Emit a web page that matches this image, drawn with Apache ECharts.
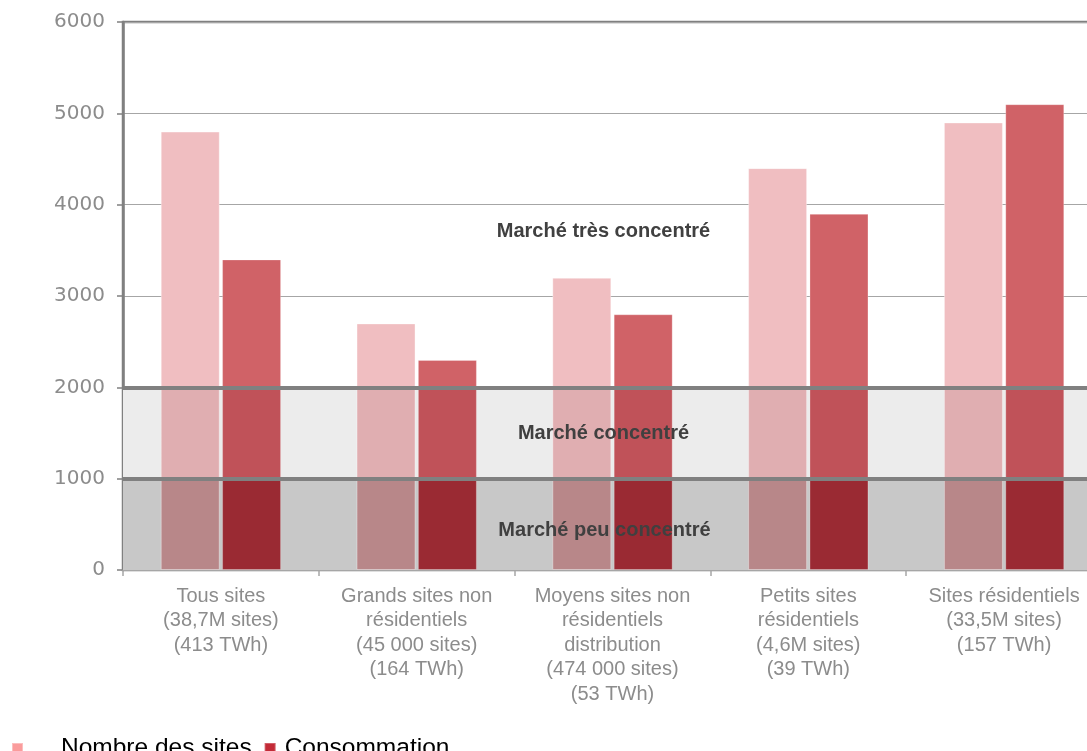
<!DOCTYPE html>
<html>
<head>
<meta charset="utf-8">
<script src="https://cdn.jsdelivr.net/npm/echarts@6/dist/echarts.min.js"></script>
<style>
  html, body { margin: 0; padding: 0; background: #fff; overflow: hidden; }
  #chart { width: 1102px; height: 751px; }
</style>
</head>
<body>
<div id="chart"></div>
<script>
// Segments of the market and their two indicators
const categories = [
  'Tous sites\n(38,7M sites)\n(413 TWh)',
  'Grands sites non\nrésidentiels\n(45 000 sites)\n(164 TWh)',
  'Moyens sites non\nrésidentiels\ndistribution\n(474 000 sites)\n(53 TWh)',
  'Petits sites\nrésidentiels\n(4,6M sites)\n(39 TWh)',
  'Sites résidentiels\n(33,5M sites)\n(157 TWh)'
];
const nombreSites = [4800, 2700, 3200, 4400, 4900];
const consommation = [3400, 2300, 2800, 3900, 5100];

// Concentration zones (HHI thresholds) and their names
const zoneBounds = [0, 1000, 2000, 6000];
const zoneNames = ['Marché peu concentré', 'Marché concentré', 'Marché très concentré'];

// Axis scale
const yMin = 0, yMax = 6000, yStep = 1000;

// Styling
const zoneFills = ['#c8c8c8', '#ececec', null];
const zoneLabelOffsets = [[-8, 6], [-9, 0], [-9, 27]];
const lightShades = ['#b88789', '#e0aeb1', '#f0bec1'];
const darkShades = ['#9a2a33', '#c05259', '#d06267'];

// Bar fill that darkens where the bar crosses each zone band
function zoneFill(v, shades) {
  const stops = [];
  for (let i = zoneBounds.length - 2; i >= 0; i--) {
    const lo = zoneBounds[i], hi = zoneBounds[i + 1];
    if (v <= lo) continue;
    const top = Math.min(hi, v);
    stops.push({ offset: 1 - top / v, color: shades[i] });
    stops.push({ offset: 1 - lo / v, color: shades[i] });
  }
  return { type: 'linear', x: 0, y: 0, x2: 0, y2: 1, colorStops: stops };
}

const chart = echarts.init(document.getElementById('chart'));

const bandAreas = [];
const labelAreas = [];
for (let i = 0; i < zoneNames.length; i++) {
  if (zoneFills[i]) {
    bandAreas.push([
      { yAxis: zoneBounds[i], itemStyle: { color: zoneFills[i] } },
      { yAxis: zoneBounds[i + 1] }
    ]);
  }
  labelAreas.push([
    { yAxis: zoneBounds[i], name: zoneNames[i], label: { offset: zoneLabelOffsets[i] } },
    { yAxis: zoneBounds[i + 1] }
  ]);
}

chart.setOption({
  animation: false,
  grid: {
    left: 123, right: 0, top: 22, bottom: 181,
    show: true, borderColor: '#808080', borderWidth: 2.5, backgroundColor: 'transparent'
  },
  legend: {
    left: 11, top: 736, padding: 0,
    icon: 'rect', itemWidth: 11, itemHeight: 11, itemGap: 12,
    textStyle: { fontSize: 24.5, color: '#000', fontFamily: 'Liberation Sans' },
    data: [
      { name: 'Nombre des sites', itemStyle: { color: '#fa9c9c' }, textStyle: { padding: [0, 0, 0, 33] } },
      { name: 'Consommation', itemStyle: { color: '#c32b37' }, textStyle: { padding: [0, 0, 0, 4] } }
    ]
  },
  xAxis: {
    type: 'category',
    data: categories,
    axisLine: { lineStyle: { color: '#a6a6a6', width: 2 } },
    axisTick: { show: true, length: 6, lineStyle: { color: '#a6a6a6', width: 1.5 } },
    axisLabel: {
      interval: 0, margin: 14,
      color: '#8c8c8c', fontSize: 20, lineHeight: 24.5, fontFamily: 'Liberation Sans'
    }
  },
  yAxis: {
    type: 'value',
    min: yMin, max: yMax, interval: yStep,
    axisLine: { show: true, lineStyle: { color: '#808080', width: 2.5 } },
    axisTick: { show: true, length: 6, lineStyle: { color: '#808080', width: 1.5 } },
    splitLine: { lineStyle: { color: '#a6a6a6', width: 1.2 } },
    axisLabel: {
      margin: 18, color: '#8c8c8c', fontSize: 20, fontFamily: 'DejaVu Sans',
      formatter: v => String(v)
    }
  },
  series: [
    {
      type: 'line', data: [], z: 1, silent: true,
      markArea: { silent: true, z: 1, data: bandAreas }
    },
    {
      name: 'Nombre des sites', type: 'bar', z: 2,
      barWidth: 59, barGap: '4%',
      itemStyle: { color: '#f0bec1', borderColor: 'rgba(255,255,255,0.35)', borderWidth: 1 },
      data: nombreSites.map(v => ({ value: v, itemStyle: { color: zoneFill(v, lightShades) } }))
    },
    {
      name: 'Consommation', type: 'bar', z: 2,
      barWidth: 59, barGap: '4%',
      itemStyle: { color: '#d06267', borderColor: 'rgba(255,255,255,0.25)', borderWidth: 1 },
      data: consommation.map(v => ({ value: v, itemStyle: { color: zoneFill(v, darkShades) } }))
    },
    {
      type: 'line', data: [], z: 5, silent: true,
      markLine: {
        silent: true, symbol: 'none', z: 5,
        label: { show: false },
        lineStyle: { color: '#808080', width: 4, type: 'solid' },
        data: [{ yAxis: zoneBounds[1] }, { yAxis: zoneBounds[2] }]
      },
      markArea: {
        silent: true, z: 6,
        itemStyle: { color: 'rgba(0,0,0,0)' },
        label: {
          position: 'inside',
          color: '#404040', fontSize: 20, fontWeight: 'bold', fontFamily: 'Liberation Sans'
        },
        data: labelAreas
      }
    }
  ]
});
</script>
</body>
</html>
